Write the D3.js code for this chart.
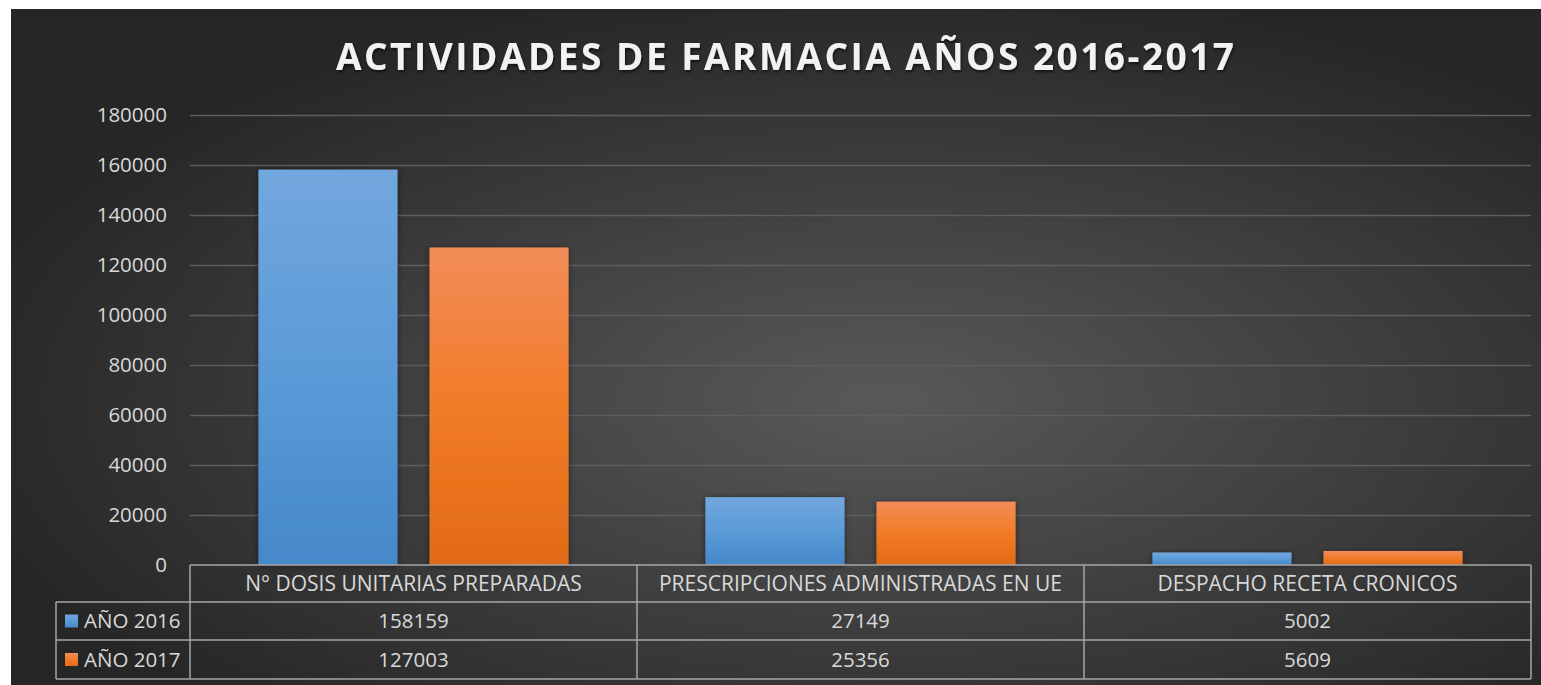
<!DOCTYPE html>
<html lang="es">
<head>
<meta charset="utf-8">
<script src="https://d3js.org/d3.v7.min.js"></script>
<style>
  body { margin: 0; background: #fff; }
  text { font-family: "Open Sans", sans-serif; }
</style>
</head>
<body>
<svg width="1541" height="685"></svg>
<script>
var categories = ["N° DOSIS UNITARIAS PREPARADAS", "PRESCRIPCIONES ADMINISTRADAS EN UE", "DESPACHO RECETA CRONICOS"];
var seriesNames = ["AÑO 2016", "AÑO 2017"];
var values2016 = [158159, 27149, 5002];
var values2017 = [127003, 25356, 5609];
var yTicks = [0, 20000, 40000, 60000, 80000, 100000, 120000, 140000, 160000, 180000];
var colors = ["#5b9bd5", "#ed7d31"];

var series = [values2016, values2017];

var svg = d3.select("svg");
var defs = svg.append("defs");

// background gradient
var bg = defs.append("radialGradient").attr("id", "bg")
  .attr("cx", "57%").attr("cy", "58%").attr("r", "62%");
bg.append("stop").attr("offset", "0%").attr("stop-color", "#595959");
bg.append("stop").attr("offset", "100%").attr("stop-color", "#262626");

var gradStops = [
  [["0%", "#72a7dd"], ["50%", "#5b9bd8"], ["100%", "#4588c9"]],
  [["0%", "#f18c58"], ["50%", "#f27b27"], ["100%", "#e26a16"]]
];
gradStops.forEach(function (stops, i) {
  var g = defs.append("linearGradient").attr("id", "bar" + i)
    .attr("x1", 0).attr("y1", 0).attr("x2", 0).attr("y2", 1);
  stops.forEach(function (s) {
    g.append("stop").attr("offset", s[0]).attr("stop-color", s[1]);
  });
});

var shadow = defs.append("filter").attr("id", "shadow")
  .attr("x", "-20%").attr("y", "-20%").attr("width", "140%").attr("height", "140%");
shadow.append("feDropShadow").attr("dx", 0).attr("dy", 1)
  .attr("stdDeviation", 3).attr("flood-color", "#000").attr("flood-opacity", 0.5);

var tshadow = defs.append("filter").attr("id", "tshadow");
tshadow.append("feDropShadow").attr("dx", 1).attr("dy", 2)
  .attr("stdDeviation", 1.5).attr("flood-color", "#000").attr("flood-opacity", 0.6);

svg.append("rect").attr("x", 11).attr("y", 9).attr("width", 1530).attr("height", 676)
  .attr("fill", "url(#bg)");

var margin = { left: 190, right: 1531, top: 115, bottom: 565 };

var x0 = d3.scaleBand().domain(categories).range([margin.left, margin.right]).padding(0);
var x1 = d3.scaleBand().domain(seriesNames).range([0, x0.bandwidth()])
  .paddingInner(0.187).paddingOuter(0.4);
var y = d3.scaleLinear().domain([0, 180000]).range([margin.bottom, margin.top]);

// title
svg.append("text")
  .attr("x", 785).attr("y", 70)
  .attr("text-anchor", "middle")
  .attr("font-size", 37).attr("font-weight", 700)
  .attr("fill", "#f2f2f2")
  .attr("textLength", 898).attr("lengthAdjust", "spacing")
  .attr("filter", "url(#tshadow)")
  .text("ACTIVIDADES DE FARMACIA AÑOS 2016-2017");

// y axis
var yAxis = svg.append("g")
  .attr("transform", "translate(" + margin.left + ",0)")
  .call(d3.axisLeft(y).tickValues(yTicks).tickFormat(d3.format("d"))
    .tickSize(-(margin.right - margin.left)).tickPadding(23));
yAxis.select(".domain").remove();
yAxis.selectAll(".tick line").attr("stroke", "#5e5e5e").attr("stroke-width", 1.5)
  .filter(function (d) { return d === 0; }).remove();
yAxis.selectAll(".tick text").attr("fill", "#d9d9d9").attr("font-size", 20.5)
  .attr("font-family", "'Open Sans', sans-serif");

// bars
var groups = svg.selectAll(".cat")
  .data(categories)
  .enter().append("g")
  .attr("class", "cat")
  .attr("transform", function (d) { return "translate(" + x0(d) + ",0)"; });

groups.selectAll("rect")
  .data(function (d, i) {
    return seriesNames.map(function (s, j) { return { s: s, j: j, v: series[j][i] }; });
  })
  .enter().append("rect")
  .attr("x", function (d) { return x1(d.s); })
  .attr("y", function (d) { return y(d.v); })
  .attr("width", x1.bandwidth())
  .attr("height", function (d) { return y(0) - y(d.v); })
  .attr("fill", function (d) { return "url(#bar" + d.j + ")"; })
  .attr("filter", "url(#shadow)");

// data table
var tableLeft = 56;
var rowY = [565, 602, 640, 679];
var lineColor = "#a6a6a6";
var table = svg.append("g");

// horizontal lines
table.append("line").attr("x1", margin.left).attr("x2", margin.right)
  .attr("y1", rowY[0]).attr("y2", rowY[0]);
[1, 2, 3].forEach(function (k) {
  table.append("line").attr("x1", tableLeft).attr("x2", margin.right)
    .attr("y1", rowY[k]).attr("y2", rowY[k]);
});
// vertical lines
table.append("line").attr("x1", tableLeft).attr("x2", tableLeft)
  .attr("y1", rowY[1]).attr("y2", rowY[3]);
categories.forEach(function (c) {
  table.append("line").attr("x1", x0(c)).attr("x2", x0(c))
    .attr("y1", rowY[0]).attr("y2", rowY[3]);
});
table.append("line").attr("x1", margin.right).attr("x2", margin.right)
  .attr("y1", rowY[0]).attr("y2", rowY[3]);
table.selectAll("line").attr("stroke", lineColor).attr("stroke-width", 1.5);

// category headers
table.selectAll(".hdr")
  .data(categories)
  .enter().append("text")
  .attr("x", function (d) { return x0(d) + x0.bandwidth() / 2; })
  .attr("y", (rowY[0] + rowY[1]) / 2)
  .attr("dy", "0.35em")
  .attr("text-anchor", "middle")
  .attr("font-size", 21)
  .attr("fill", "#d9d9d9")
  .text(function (d) { return d; });

// value rows
series.forEach(function (vals, j) {
  var cy = (rowY[j + 1] + rowY[j + 2]) / 2;
  table.selectAll(".v" + j)
    .data(vals)
    .enter().append("text")
    .attr("x", function (d, i) { return x0(categories[i]) + x0.bandwidth() / 2; })
    .attr("y", cy)
    .attr("dy", "0.35em")
    .attr("text-anchor", "middle")
    .attr("font-size", 20.5)
    .attr("fill", "#d9d9d9")
    .text(function (d) { return d; });

  table.append("rect")
    .attr("x", 65).attr("y", cy - 6.5)
    .attr("width", 13).attr("height", 13)
    .attr("fill", "url(#bar" + j + ")");
  table.append("text")
    .attr("x", 84).attr("y", cy)
    .attr("dy", "0.35em")
    .attr("font-size", 20.5)
    .attr("fill", "#d9d9d9")
    .text(seriesNames[j]);
});
</script>
</body>
</html>
